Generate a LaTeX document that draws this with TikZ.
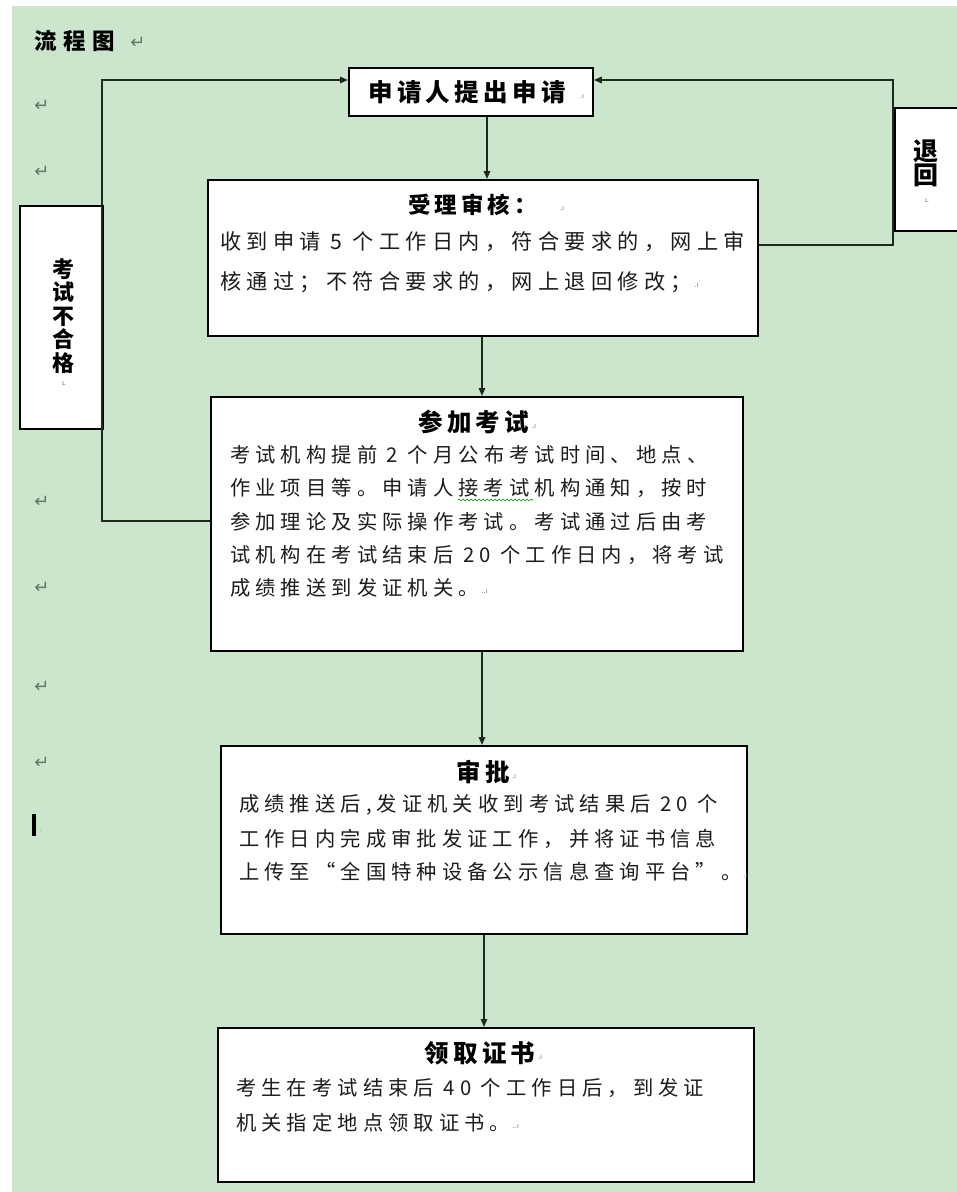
\documentclass[tikz,border=0pt]{standalone}
\usepackage{fontspec}
\setmainfont{Noto Sans CJK SC}
\newfontfamily\bodyf[LetterSpace=25]{Noto Sans CJK SC}
\newfontfamily\ttlf[LetterSpace=18]{Noto Sans CJK SC}
\newfontfamily\widef[LetterSpace=30]{Noto Sans CJK SC}
\newfontfamily\symf{DejaVu Sans}
\usetikzlibrary{arrows.meta,decorations.pathmorphing}
\definecolor{bg}{RGB}{203,230,205}
\definecolor{linec}{RGB}{30,42,32}
\definecolor{txt}{RGB}{28,28,28}
\definecolor{pmc}{RGB}{100,118,100}
\tikzset{
  box/.style={draw=black, line width=1.8pt, fill=white, anchor=north west, inner sep=0pt},
  ttl/.style={font={\ttlf\bfseries\fontsize{24.5}{24.5}\selectfont}, inner sep=0pt, text=black},
  ln/.style={font={\bodyf\fontsize{20.3}{22}\selectfont}, anchor=west, inner sep=0pt, text=txt},
  lnb/.style={font={\bodyf\fontsize{21.2}{22}\selectfont}, anchor=west, inner sep=0pt, text=txt},
  vt/.style={font={\bfseries\fontsize{22}{23.5}\selectfont}, align=center, inner sep=0pt, text=black},
  conn/.style={draw=linec, line width=1.5pt},
  arr/.style={conn, -{Triangle[length=8pt,width=6.5pt]}},
  pm/.style={font={\symf\fontsize{7}{7}\selectfont}, text=pmc, inner sep=0pt},
  rmk/.style={font={\symf\fontsize{18}{18}\selectfont}, text=pmc, inner sep=0pt},
}
\begin{document}
\begin{tikzpicture}[x=1pt,y=-1pt]
\fill[white] (0,0) rectangle (957,1192);
\fill[bg] (12,6) rectangle (957,1192);
\useasboundingbox (0,0) rectangle (957,1192);

% title and paragraph marks
\node[font={\widef\bfseries\fontsize{22.5}{22.5}\selectfont}, anchor=west, inner sep=0pt] (title) at (34,41) {流程图};
\node[rmk] (r0) at (138,43) {↵};
\node[rmk] (r1) at (42,106) {↵};
\node[rmk] (r2) at (42,172) {↵};
\node[rmk] (r3) at (42,502) {↵};
\node[rmk] (r4) at (42,588) {↵};
\node[rmk] (r5) at (42,687) {↵};
\node[rmk] (r6) at (42,763) {↵};
\fill[black] (32,814) rectangle (36,836);
\node[pm] (r7) at (41,831) {.};

% boxes
\node[box, minimum width=244pt, minimum height=48pt] (b1) at (348,67) {};
\node[box, minimum width=550pt, minimum height=156pt] (b2) at (207,179) {};
\node[box, minimum width=532pt, minimum height=254pt] (b3) at (210,396) {};
\node[box, minimum width=526pt, minimum height=188pt] (b4) at (220,745) {};
\node[box, minimum width=536pt, minimum height=154pt] (b5) at (217,1027) {};
\node[box, minimum width=83pt, minimum height=223pt] (lb) at (19,205) {};
\begin{scope}
\clip (0,0) rectangle (957,1192);
\node[box, minimum width=70pt, minimum height=123pt] (rb) at (894,107) {};
\end{scope}

% connectors
\coordinate (cr) at (893,80);
\coordinate (cl) at (102,80);
\draw[arr] (b1.south -| 487,0) -- (b2.north -| 487,0);
\draw[arr] (b2.south -| 482,0) -- (b3.north -| 482,0);
\draw[arr] (b3.south -| 482,0) -- (b4.north -| 482,0);
\draw[arr] (b4.south -| 484,0) -- (b5.north -| 484,0);
\draw[arr] (b2.east |- 0,245) -| (cr) -- (b1.east |- cr);
\draw[arr] (b3.west |- 0,521) -| (cl) -- (b1.west |- cl);

% box 1
\node[ttl, anchor=west] (t1) at (368,92) {申请人提出申请};
\node[pm] (p1) at (582,97) {.ı};

% box 2
\node[ttl, font={\ttlf\bfseries\fontsize{22.5}{22.5}\selectfont}, anchor=west] (t2) at (408,205) {受理审核：};
\node[pm] (p2) at (562,209) {.ı};
\node[lnb] (l21) at (220,242) {收到申请 5 个工作日内，符合要求的，网上审};
\node[lnb] (l22) at (220,282) {核通过；不符合要求的，网上退回修改；};
\node[pm] (p22) at (l22.east) [anchor=west, xshift=2pt, yshift=-4pt] {.ı};

% box 3
\node[ttl, anchor=west] (t3) at (418,422) {参加考试};
\node[pm] (p3) at (t3.east) [anchor=west, xshift=2pt, yshift=-5pt] {.ı};
\node[ln] (l31) at (230,455) {考试机构提前 2 个月公布考试时间、地点、};
\node[ln] (l32) at (230,488) {作业项目等。申请人接考试机构通知，按时};
\node[ln] (l33) at (230,522) {参加理论及实际操作考试。考试通过后由考};
\node[ln] (l34) at (230,555) {试机构在考试结束后 20 个工作日内，将考试};
\node[ln] (l35) at (230,588) {成绩推送到发证机关。};
\node[pm] (p35) at (l35.east) [anchor=west, xshift=2pt, yshift=-4pt] {..ı};
\draw[green!55!black, line width=0.6pt, decorate, decoration={snake, amplitude=1pt, segment length=4pt}] (458,500) -- (533,500);

% box 4
\node[ttl, anchor=west] (t4) at (456,772) {审批};
\node[pm] (p4) at (t4.east) [anchor=west, xshift=2pt, yshift=-5pt] {.ı};
\node[ln] (l41) at (239,805) {成绩推送后,发证机关收到考试结果后 20 个};
\node[ln] (l42) at (239,839) {工作日内完成审批发证工作，并将证书信息};
\node[ln] (l43) at (239,872) {上传至“全国特种设备公示信息查询平台”。};
\node[pm] (p43) at (l43.east) [anchor=west, xshift=1pt, yshift=-4pt] {.ı};

% box 5
\node[ttl, anchor=west] (t5) at (424,1053) {领取证书};
\node[pm] (p5) at (t5.east) [anchor=west, xshift=2pt, yshift=-5pt] {.ı};
\node[ln] (l51) at (236,1088) {考生在考试结束后 40 个工作日后，到发证};
\node[ln] (l52) at (236,1123) {机关指定地点领取证书。};
\node[pm] (p52) at (l52.east) [anchor=west, xshift=2pt, yshift=-4pt] {..ı};

% side boxes text
\node[vt] (tl) at (63,316) {考\\试\\不\\合\\格};
\node[pm] (pl) at (64,384) {ʟ};
\node[vt, font={\bfseries\fontsize{25}{21}\selectfont}] (tr) at (926,163) {退\\回};
\node[pm] (pr) at (927,201) {ʟ};
\end{tikzpicture}
\end{document}
